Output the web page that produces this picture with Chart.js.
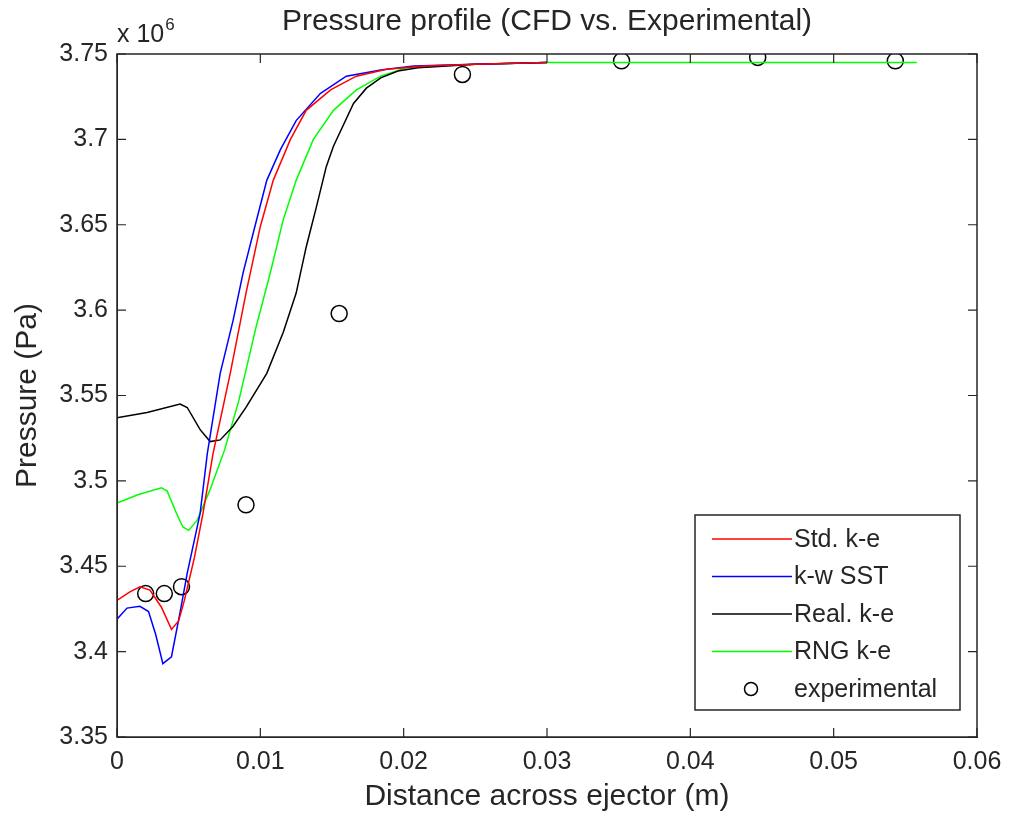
<!DOCTYPE html>
<html>
<head>
<meta charset="utf-8">
<script src="https://cdn.jsdelivr.net/npm/chart.js@4"></script>
<style>
  html, body { margin: 0; padding: 0; background: #fff; }
  #wrap { width: 1015px; height: 820px; }
</style>
</head>
<body>
<div id="wrap"><canvas id="pressureChart"></canvas></div>
<script>
// pressure values are in units of 10^6 Pa (axis carries the "x 10^6" multiplier)
var stdX = [0, 0.0009, 0.0016, 0.0023, 0.0031, 0.0038, 0.0043, 0.0047, 0.0054, 0.0060, 0.0067, 0.0079, 0.0090, 0.0100, 0.0109, 0.0121, 0.0132, 0.0149, 0.0167, 0.0188, 0.0215, 0.025, 0.030];
var stdY = [3.430, 3.435, 3.438, 3.436, 3.426, 3.413, 3.418, 3.430, 3.455, 3.481, 3.516, 3.563, 3.610, 3.649, 3.676, 3.700, 3.717, 3.729, 3.737, 3.741, 3.743, 3.744, 3.745];

var sstX = [0, 0.0007, 0.0016, 0.0022, 0.0027, 0.0032, 0.0038, 0.0044, 0.0049, 0.0058, 0.0063, 0.0072, 0.0081, 0.0088, 0.0095, 0.01045, 0.0114, 0.0125, 0.0142, 0.0160, 0.0184, 0.0207, 0.025, 0.030];
var sstY = [3.419, 3.4255, 3.4265, 3.4235, 3.410, 3.393, 3.397, 3.423, 3.446, 3.481, 3.516, 3.563, 3.594, 3.622, 3.645, 3.676, 3.694, 3.711, 3.727, 3.737, 3.7406, 3.743, 3.744, 3.745];

var realX = [0, 0.0021, 0.0044, 0.0049, 0.0058, 0.0065, 0.0072, 0.0081, 0.0090, 0.01045, 0.0116, 0.0125, 0.0132, 0.0139, 0.0146, 0.0151, 0.0165, 0.0174, 0.0184, 0.0196, 0.0210, 0.025, 0.030];
var realY = [3.537, 3.540, 3.545, 3.543, 3.530, 3.523, 3.524, 3.532, 3.543, 3.563, 3.587, 3.610, 3.637, 3.660, 3.684, 3.696, 3.721, 3.730, 3.736, 3.7400, 3.7420, 3.744, 3.745];

var rngX = [0, 0.0015, 0.0031, 0.0035, 0.0042, 0.0046, 0.0050, 0.0056, 0.0065, 0.0075, 0.0085, 0.0097, 0.0107, 0.0116, 0.0125, 0.0137, 0.0151, 0.0167, 0.0184, 0.0202, 0.025, 0.030, 0.0558];
var rngY = [3.487, 3.492, 3.496, 3.494, 3.480, 3.473, 3.471, 3.477, 3.495, 3.518, 3.547, 3.590, 3.622, 3.653, 3.676, 3.700, 3.717, 3.729, 3.737, 3.742, 3.744, 3.745, 3.745];

var expX = [0.0020, 0.0033, 0.0045, 0.0090, 0.0155, 0.0241, 0.0352, 0.0447, 0.0543];
var expY = [3.434, 3.434, 3.438, 3.486, 3.598, 3.738, 3.746, 3.748, 3.746];

var xTicks = [0, 0.01, 0.02, 0.03, 0.04, 0.05, 0.06];
var yTicks = [3.35, 3.4, 3.45, 3.5, 3.55, 3.6, 3.65, 3.7, 3.75];

var titleText = 'Pressure profile (CFD vs. Experimental)';

function pts(xs, ys) {
    return xs.map(function(x, i) { return { x: x, y: ys[i] }; });
}
function fmt(v) { return parseFloat(v.toFixed(3)).toString(); }

var FONT = '"Liberation Sans", Arial, sans-serif';

function lineSet(label, xs, ys, color) {
    return {
        label: label, data: pts(xs, ys), showLine: true,
        borderColor: color, backgroundColor: color, borderWidth: 1.5,
        pointRadius: 0, tension: 0
    };
}

/* MATLAB-like box, inward ticks, title, exponent label and legend */
var matlabAxes = {
    id: 'matlabAxes',
    afterDraw: function(chart) {
        var c = chart.ctx, a = chart.chartArea;
        var xs = chart.scales.x, ys = chart.scales.y;
        c.save();
        c.strokeStyle = '#262626';
        c.lineWidth = 1.5;
        c.strokeRect(a.left, a.top, a.right - a.left, a.bottom - a.top);
        c.lineWidth = 1.2;
        c.beginPath();
        xTicks.forEach(function(t) {
            var px = xs.getPixelForValue(t);
            c.moveTo(px, a.bottom); c.lineTo(px, a.bottom - 9);
            c.moveTo(px, a.top); c.lineTo(px, a.top + 9);
        });
        yTicks.forEach(function(t) {
            var py = ys.getPixelForValue(t);
            c.moveTo(a.left, py); c.lineTo(a.left + 9, py);
            c.moveTo(a.right, py); c.lineTo(a.right - 9, py);
        });
        c.stroke();

        // title centred over the axes
        c.fillStyle = '#262626';
        c.textAlign = 'center';
        c.textBaseline = 'middle';
        c.font = '30px ' + FONT;
        c.fillText(titleText, (a.left + a.right) / 2, 22);

        // exponent
        c.textBaseline = 'alphabetic';
        c.textAlign = 'left';
        c.font = '25px ' + FONT;
        c.fillText('x 10', a.left, a.top - 12);
        var w = c.measureText('x 10').width;
        c.font = '17px ' + FONT;
        c.fillText('6', a.left + w + 1, a.top - 24);

        // legend
        var bx = 695, by = 515, bw = 265, bh = 195;
        c.fillStyle = '#fff';
        c.fillRect(bx, by, bw, bh);
        c.strokeStyle = '#262626';
        c.lineWidth = 1.5;
        c.strokeRect(bx, by, bw, bh);
        c.font = '25px ' + FONT;
        c.textBaseline = 'middle';
        chart.data.datasets.forEach(function(ds, i) {
            var ry = by + 24 + i * 37.5;
            c.strokeStyle = ds.borderColor;
            c.lineWidth = 1.5;
            c.beginPath();
            if (ds.showLine) { c.moveTo(bx + 17, ry); c.lineTo(bx + 97, ry); }
            else { c.arc(bx + 56, ry, 6.5, 0, Math.PI * 2); }
            c.stroke();
            c.fillStyle = '#262626';
            c.fillText(ds.label, bx + 99, ry + 1);
        });
        c.restore();
    }
};

var ctx = document.getElementById('pressureChart');
new Chart(ctx, {
    type: 'scatter',
    data: {
        datasets: [
            lineSet('Std. k-e', stdX, stdY, '#ff0000'),
            lineSet('k-w SST', sstX, sstY, '#0000ff'),
            lineSet('Real. k-e', realX, realY, '#000000'),
            lineSet('RNG k-e', rngX, rngY, '#00ff00'),
            {
                label: 'experimental', data: pts(expX, expY), showLine: false,
                borderColor: '#000000', backgroundColor: 'rgba(0,0,0,0)',
                borderWidth: 1.5, pointRadius: 8, pointHoverRadius: 8, pointStyle: 'circle'
            }
        ]
    },
    options: {
        responsive: true,
        maintainAspectRatio: false,
        animation: false,
        layout: { padding: { left: 0, right: 38, top: 54, bottom: 0 } },
        plugins: {
            legend: { display: false },
            tooltip: { enabled: false },
            title: { display: false }
        },
        scales: {
            x: {
                type: 'linear', min: 0, max: 0.06,
                afterBuildTicks: function(s) { s.ticks = xTicks.map(function(v) { return { value: v }; }); },
                afterFit: function(s) { s.height = 83; },
                grid: { display: false, drawTicks: false },
                border: { display: true, color: '#262626' },
                ticks: { color: '#262626', padding: 10, maxRotation: 0, autoSkip: false,
                         font: { family: FONT, size: 25 }, callback: function(v) { return fmt(v); } },
                title: { display: true, text: 'Distance across ejector (m)', color: '#262626',
                         font: { family: FONT, size: 30 }, padding: { top: 4, bottom: 5 } }
            },
            y: {
                type: 'linear', min: 3.35, max: 3.75,
                afterBuildTicks: function(s) { s.ticks = yTicks.map(function(v) { return { value: v }; }); },
                afterFit: function(s) { s.width = 117; },
                grid: { display: false, drawTicks: false },
                border: { display: true, color: '#262626' },
                ticks: { color: '#262626', padding: 9, autoSkip: false,
                         font: { family: FONT, size: 25 }, callback: function(v) { return fmt(v); } },
                title: { display: true, text: 'Pressure (Pa)', color: '#262626',
                         font: { family: FONT, size: 30 }, padding: { top: 10, bottom: 0 } }
            }
        }
    },
    plugins: [matlabAxes]
});
</script>
</body>
</html>
